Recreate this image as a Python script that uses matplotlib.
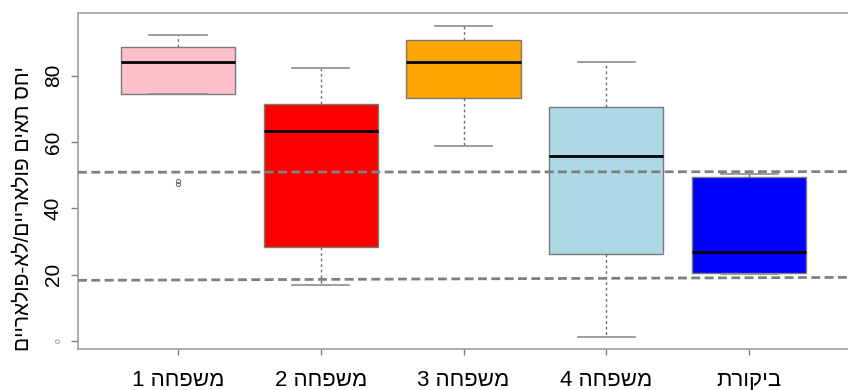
import numpy as np
import matplotlib
matplotlib.use("Agg")
import matplotlib.pyplot as plt

plt.rcParams['font.family'] = ['Liberation Sans', 'DejaVu Sans']

# box statistics per group (read as whisker low, Q1, median, Q3, whisker high)
groups = ["משפחה 1", "משפחה 2", "משפחה 3", "משפחה 4", "ביקורת"]
whislo = [74.6, 17.0, 58.8, 1.3, 20.2]
q1 = [74.6, 28.4, 73.3, 26.1, 20.6]
med = [84.2, 63.4, 84.2, 55.9, 26.8]
q3 = [88.7, 71.5, 90.8, 70.5, 49.4]
whishi = [92.3, 82.5, 95.1, 84.2, 50.3]
fliers = [[47.5, 48.3], [], [], [], []]
colors = ["#FFC0CB", "#FF0000", "#FFA500", "#ADD8E6", "#0000FF"]

# reference lines (value at left edge, value at right edge)
upper_ref = [50.9, 51.1]
lower_ref = [18.3, 19.2]

ylabel = "יחס תאים פולאריים/לא-פולאריים"


def visual(s):
    # matplotlib lays text out left-to-right, so flip Hebrew for display
    return s[::-1]


fig = plt.figure(figsize=(8.48, 3.90), dpi=100)
ax = fig.add_axes([78 / 848, 41 / 390, 774 / 848, 336 / 390])

stats = []
for i in range(len(groups)):
    stats.append(dict(whislo=whislo[i], q1=q1[i], med=med[i], q3=q3[i],
                      whishi=whishi[i], fliers=fliers[i]))

pos = np.arange(1, len(groups) + 1)
bp = ax.bxp(stats, positions=pos, widths=0.8, capwidths=0.4,
            patch_artist=True, showfliers=True,
            boxprops=dict(edgecolor="#7a7a7a", linewidth=1),
            medianprops=dict(color="black", linewidth=2),
            whiskerprops=dict(color="#6e6e6e", linewidth=1, linestyle=(0, (2, 2))),
            capprops=dict(color="#8c8c8c", linewidth=1.2),
            flierprops=dict(marker="o", markersize=3, markerfacecolor="none",
                            markeredgecolor="#777777", markeredgewidth=0.8))
for patch, c in zip(bp["boxes"], colors):
    patch.set_facecolor(c)

xlim = (0.3, 5.72)
ax.set_xlim(*xlim)
ax.set_ylim(-2.41, 98.94)

for ref in (upper_ref, lower_ref):
    ax.plot(xlim, ref, color="#808080", linewidth=2,
            linestyle=(0, (3.2, 1.6)), zorder=5)

ax.set_xticks(pos)
ax.set_xticklabels([visual(g) for g in groups], fontsize=16)
ax.set_yticks([0, 20, 40, 60, 80])
ax.set_yticklabels(["0", "20", "40", "60", "80"], fontsize=15, rotation=90,
                   va="center")
zero = ax.get_yticklabels()[0]
zero.set_fontsize(6)
zero.set_color("#777777")

ax.tick_params(axis="y", length=5, width=1, color="#808080", pad=6)
ax.tick_params(axis="x", length=4, width=1, color="#808080", pad=11)
for side, sp in ax.spines.items():
    sp.set_color("#a0a0a0")
    sp.set_linewidth(1.2)

fig.text(23 / 848, 181 / 390, visual(ylabel), rotation=90, fontsize=15,
         ha="center", va="center")

fig.savefig("out.png", dpi=100)
